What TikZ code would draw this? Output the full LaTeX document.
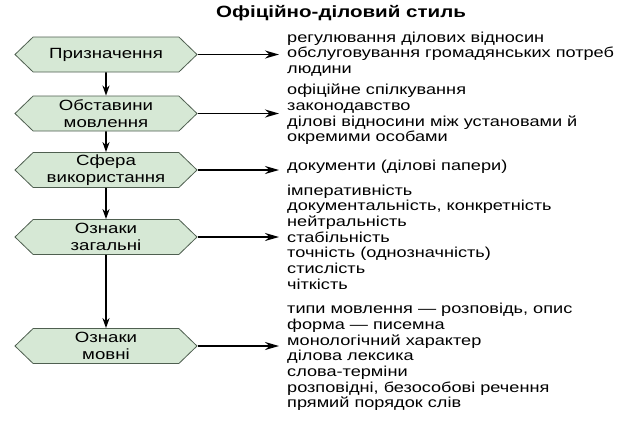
\documentclass[tikz,border=0pt]{standalone}
\usepackage{fontspec}
\setmainfont{Liberation Sans}[FakeStretch=1.26]
\usetikzlibrary{shapes.symbols,arrows.meta}
\definecolor{hexfill}{HTML}{D6E8D5}
\definecolor{hexdraw}{HTML}{4F5F50}
\tikzset{
  hexbox/.style={signal, signal to=west and east, signal pointer angle=88,
    minimum width=182pt, minimum height=35pt, inner sep=0pt,
    fill=hexfill, draw=hexdraw, line width=0.8pt, align=center,
    font=\fontsize{14.8}{17}\selectfont},
  list/.style={anchor=west, align=left, inner sep=0pt,
    font=\fontsize{14.4}{15.7}\selectfont},
  conn/.style={line width=1.8pt, -{Stealth[length=14pt,width=8pt]}, black},
  vconn/.style={line width=1.8pt, -{Stealth[length=10pt,width=7pt]}, black},
}
\begin{document}
\begin{tikzpicture}[x=1pt,y=-1pt]
\useasboundingbox (0,0) rectangle (620,421);
\node[font=\bfseries\fontsize{16.3}{18}\selectfont] (title) at (341,13) {Офіційно-діловий стиль};

\node[hexbox] (h1) at (106,54.5) {Призначення};
\node[hexbox] (h2) at (106,113.5) {Обставини\\мовлення};
\node[hexbox] (h3) at (106,170) {Сфера\\використання};
\node[hexbox] (h4) at (106,237) {Ознаки\\загальні};
\node[hexbox] (h5) at (106,346) {Ознаки\\мовні};

\node[list] (t1) at (287,54) {регулювання ділових відносин\\обслуговування громадянських потреб\\людини};
\node[list] (t2) at (287,114.5) {офіційне спілкування\\законодавство\\ділові відносини між установами й\\окремими особами};
\node[list] (t3) at (287,167) {документи (ділові папери)};
\node[list] (t4) at (287,237) {імперативність\\документальність, конкретність\\нейтральність\\стабільність\\точність (однозначність)\\стислість\\чіткість};
\node[list] (t5) at (287,357) {типи мовлення — розповідь, опис\\форма — писемна\\монологічний характер\\ділова лексика\\слова-терміни\\розповідні, безособові речення\\прямий порядок слів};

\draw[vconn] (h1) -- (h2);
\draw[vconn] (h2) -- (h3);
\draw[vconn] (h3) -- (h4);
\draw[vconn] (h4) -- (h5);

\draw[conn] (h1.east) -- ([xshift=-8pt]h1.east -| t1.west);
\draw[conn] (h2.east) -- ([xshift=-8pt]h2.east -| t2.west);
\draw[conn] (h3.east) -- ([xshift=-8pt]h3.east -| t3.west);
\draw[conn] (h4.east) -- ([xshift=-8pt]h4.east -| t4.west);
\draw[conn] (h5.east) -- ([xshift=-8pt]h5.east -| t5.west);
\end{tikzpicture}
\end{document}
